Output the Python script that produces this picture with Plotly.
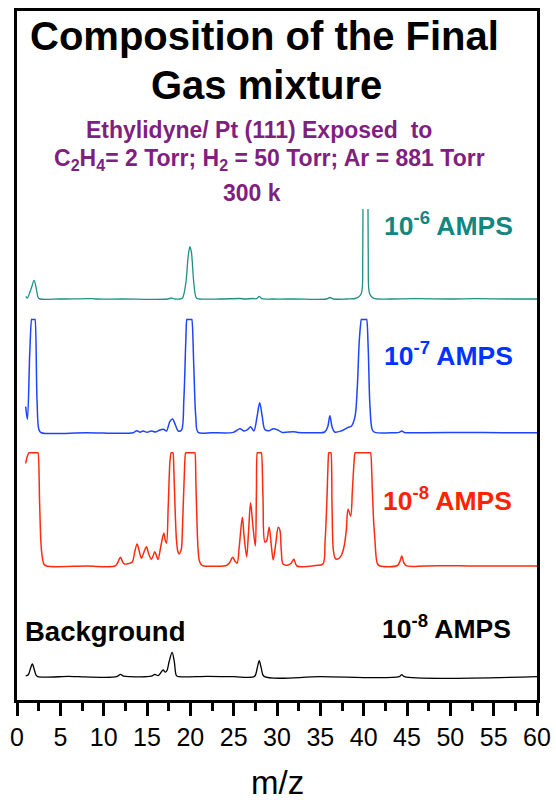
import plotly.graph_objects as go

# Mass spectra (m/z, signal above the trace's own baseline), one list per gain setting.
# None splits the line where the 10^-6 A trace runs off scale at m/z 40.
spec_1e6 = [(1.0, 2.7), (1.2, 1.0), (1.45, 6.0), (1.66, 11.0), (1.98, 18.7), (2.24, 9.7),
            (2.47, 1.0), (2.7, 0.0), (5.0, 0.0), (8.6, 0.4), (9.2, 0.0), (12.0, 0.0),
            (17.4, 0.0), (17.8, 1.0), (18.2, 0.0), (18.8, 0.0), (19.1, 1.0), (19.48, 16.0),
            (19.75, 42.7), (19.95, 52.3), (20.13, 46.3), (20.4, 16.3), (20.7, 1.0), (21.1, 0.0),
            (23.5, 0.0), (25.7, 0.5), (26.3, 0.0), (27.2, 0.5), (27.65, 0.3), (27.95, 2.7),
            (28.25, 0.3), (29.5, 0.0), (32.0, 0.0), (35.7, 0.0), (36.1, 1.5), (36.5, 0.0),
            (38.0, 0.0), (39.0, 0.5), (39.4, 2.0), (39.7, 5.0), (39.85, 12.0), (39.89, 40.0),
            (39.91, 70.0), (39.92, 90.0), (None, None), (40.5, 90.0), (40.51, 70.0),
            (40.53, 40.0), (40.57, 12.0), (40.7, 5.0), (40.95, 2.0), (41.3, 0.3), (43.0, 0.0),
            (46.0, 0.3), (50.0, 0.0), (53.0, 0.3), (57.0, 0.0), (60.0, 0.0)]

spec_1e7 = [(1.0, 26.0), (1.2, 13.3), (1.47, 79.3), (1.69, 113.3), (1.72, 113.3), (2.05, 113.3),
            (2.08, 113.3), (2.31, 32.7), (2.54, 2.7), (2.8, 0.0), (8.0, 0.0), (13.4, 0.0),
            (13.8, 2.0), (14.2, 0.5), (14.55, 1.7), (15.0, 0.5), (15.5, 1.7), (16.0, 0.7),
            (16.5, 2.7), (16.95, 3.3), (17.25, 1.7), (17.63, 11.0), (17.94, 13.7), (18.28, 7.7),
            (18.6, 1.7), (18.98, 2.7), (19.25, 32.7), (19.48, 92.7), (19.6, 113.3),
            (19.63, 113.3), (20.14, 113.3), (20.17, 113.3), (20.4, 66.0), (20.63, 16.0),
            (20.9, 0.3), (22.5, 0.0), (24.95, 0.3), (25.71, 4.0), (26.2, 1.7), (26.6, 3.0),
            (26.95, 6.0), (27.33, 1.7), (27.7, 16.0), (28.0, 30.0), (28.3, 16.0), (28.6, 3.3),
            (29.1, 2.0), (29.57, 4.0), (30.1, 2.7), (30.6, 0.3), (31.9, 1.0), (32.4, 0.3),
            (34.0, 0.0), (35.5, 0.7), (35.85, 6.0), (36.1, 17.0), (36.35, 6.0), (36.65, 0.7),
            (37.4, 1.7), (38.0, 4.3), (38.2, 5.3), (38.6, 6.7), (39.0, 16.0), (39.27, 46.0),
            (39.5, 92.7), (39.74, 113.3), (39.77, 113.3), (40.32, 113.3), (40.35, 113.3),
            (40.53, 82.7), (40.73, 26.0), (41.0, 2.7), (41.3, 0.3), (43.5, 0.0), (44.1, 0.3),
            (44.4, 1.7), (44.7, 0.3), (47.0, 0.0), (52.0, 0.3), (56.0, 0.0), (60.0, 0.0)]

spec_1e8 = [(1.0, 102.7), (1.2, 110.0), (1.39, 113.3), (1.42, 113.3), (2.4, 113.3), (2.43, 113.3),
            (2.62, 59.3), (2.82, 16.0), (3.1, 2.0), (3.4, 0.0), (8.0, 0.0), (11.3, 0.0),
            (11.6, 3.0), (11.94, 8.7), (12.2, 4.0), (12.4, 2.0), (12.9, 2.5), (13.3, 4.0),
            (13.6, 15.0), (13.86, 22.0), (14.1, 15.0), (14.36, 7.7), (14.65, 14.0),
            (14.94, 19.3), (15.2, 12.0), (15.5, 6.7), (15.7, 10.0), (15.9, 14.3), (16.1, 10.0),
            (16.28, 6.7), (16.6, 20.0), (16.94, 32.7), (17.1, 26.0), (17.25, 22.7),
            (17.45, 60.0), (17.65, 105.0), (17.78, 113.3), (17.81, 113.3), (17.97, 113.3),
            (18.0, 113.3), (18.1, 95.0), (18.25, 55.0), (18.4, 26.0), (18.55, 15.0),
            (18.7, 12.0), (18.85, 14.0), (18.98, 17.7), (19.1, 40.0), (19.3, 90.0),
            (19.45, 113.3), (19.48, 113.3), (20.5, 113.3), (20.53, 113.3), (20.65, 80.0),
            (20.78, 40.0), (20.9, 16.0), (21.05, 5.0), (21.3, 1.0), (21.6, 0.0), (23.8, 0.0),
            (24.2, 0.7), (24.5, 3.0), (24.9, 8.7), (25.15, 5.0), (25.4, 2.7), (25.65, 20.0),
            (26.0, 48.7), (26.2, 30.0), (26.5, 9.3), (26.72, 35.0), (26.95, 63.3),
            (27.2, 42.0), (27.5, 20.0), (27.62, 70.0), (27.72, 113.3), (27.75, 113.3),
            (28.17, 113.3), (28.2, 113.3), (28.38, 70.0), (28.6, 24.0), (28.8, 25.0),
            (29.1, 38.7), (29.35, 20.0), (29.56, 6.0), (29.85, 22.0), (30.14, 38.7),
            (30.33, 36.0), (30.5, 15.0), (30.7, 2.0), (31.3, 1.0), (31.65, 3.0),
            (31.95, 6.7), (32.3, 0.0), (34.5, 0.5), (35.3, 2.0), (35.55, 25.0),
            (35.73, 59.3), (35.92, 108.0), (35.97, 113.3), (36.0, 113.3), (36.2, 113.3),
            (36.23, 113.3), (36.35, 60.0), (36.5, 16.0), (36.7, 8.0), (36.9, 6.7),
            (37.2, 8.0), (37.45, 11.0), (37.75, 20.0), (38.0, 36.0), (38.2, 56.7),
            (38.5, 50.0), (38.7, 76.0), (38.9, 105.0), (39.0, 113.3), (39.03, 113.3),
            (40.77, 113.3), (40.8, 113.3), (41.0, 76.0), (41.15, 45.0), (41.3, 26.0),
            (41.45, 8.0), (41.6, 2.0), (41.9, 0.0), (43.9, 0.5), (44.2, 5.0), (44.4, 10.0),
            (44.6, 4.0), (44.9, 0.3), (47.0, 0.0), (50.0, 0.3), (52.0, 0.0), (55.0, 0.0),
            (60.0, 0.0)]

spec_bg = [(1.0, 0.7), (1.3, 2.0), (1.55, 8.0), (1.77, 12.7), (2.0, 7.0), (2.2, 1.5), (2.4, 0.0),
           (6.0, 0.3), (7.0, 0.0), (11.5, 0.0), (11.94, 2.3), (12.3, 0.5), (13.0, 0.0),
           (15.5, 0.5), (15.9, 2.3), (16.3, 1.0), (16.86, 6.7), (17.1, 4.5), (17.3, 6.0),
           (17.55, 15.0), (17.9, 24.3), (18.15, 15.0), (18.4, 1.0), (18.7, 0.0), (22.0, 0.3),
           (25.0, 0.0), (27.4, 0.3), (27.7, 8.0), (27.95, 16.0), (28.2, 8.0), (28.5, 0.3),
           (35.0, 0.0), (44.1, 0.0), (44.4, 2.0), (44.7, 0.0), (60.0, 0.0)]

x_ticks = [0, 5, 10, 15, 20, 25, 30, 35, 40, 45, 50, 55, 60]

# Vertical stacking of the traces (plot units, bottom of the frame = 0)
traces = [
    (spec_1e6, 401.0, "#1f8f87", 1.3),
    (spec_1e7, 267.3, "#1f44ff", 1.5),
    (spec_1e8, 134.0, "#ff2a10", 1.5),
    (spec_bg, 23.3, "#000000", 1.3),
]

FONT = "Arial, 'Liberation Sans', sans-serif"

fig = go.Figure()
for spec, base, color, width in traces:
    xs = [p[0] for p in spec]
    ys = [None if p[1] is None else base + p[1] for p in spec]
    fig.add_trace(go.Scatter(
        x=xs, y=ys, mode="lines", connectgaps=False,
        line=dict(color=color, width=width, shape="spline", smoothing=0.9),
        hoverinfo="skip",
    ))

W, H = 556, 800
L, R, T, B = 17, 19, 11, 100
PW, PH = W - L - R, H - T - B


def px_x(px):
    return (px - L) / PW


def px_y(py):
    return (H - B - py) / PH


def note(text, x, y, size, color, xanchor="center", bold=True):
    fig.add_annotation(
        x=px_x(x), y=px_y(y), xref="paper", yref="paper",
        text=f"<b>{text}</b>" if bold else text, showarrow=False,
        xanchor=xanchor, yanchor="middle",
        font=dict(family=FONT, size=size, color=color),
    )


note("Composition of the Final", 264, 36, 40, "#000000")
note("Gas mixture", 266, 85, 40, "#000000")

purple = "#7f1f7f"
note("Ethylidyne/ Pt (111) Exposed  to", 259, 130, 23, purple)
note("C<sub>2</sub>H<sub>4</sub>= 2 Torr; H<sub>2</sub> = 50 Torr; Ar = 881 Torr", 269, 160, 23, purple)
note("300 k", 252, 193, 23, purple)

note("10<sup>-6</sup> AMPS", 448, 224, 26.5, "#12877f")
note("10<sup>-7</sup> AMPS", 448, 354, 26.5, "#0033ff")
note("10<sup>-8</sup> AMPS", 447, 499, 26.5, "#ff2200")
note("10<sup>-8</sup> AMPS", 446, 627, 26.5, "#000000")
note("Background", 23, 631, 27.5, "#000000", xanchor="left")

note("m/z", 277, 782, 33, "#000000", bold=False)

fig.update_layout(
    width=W, height=H,
    margin=dict(l=L, r=R, t=T, b=B, pad=0, autoexpand=False),
    paper_bgcolor="white", plot_bgcolor="white",
    showlegend=False,
    font=dict(family=FONT, color="black"),
    xaxis=dict(
        range=[0, 60], tickvals=x_ticks, ticktext=[str(v) for v in x_ticks],
        ticks="outside", ticklen=13, tickwidth=2.5, tickcolor="black",
        tickfont=dict(family=FONT, size=25, color="black"),
        minor=dict(dtick=2.5, tick0=0, ticks="outside", ticklen=8, tickwidth=2.5,
                   tickcolor="black", showgrid=False),
        showline=True, linewidth=3, linecolor="black", mirror=True,
        showgrid=False, zeroline=False, automargin=False,
    ),
    yaxis=dict(
        range=[0, PH], showticklabels=False, ticks="",
        showline=True, linewidth=3, linecolor="black", mirror=True,
        showgrid=False, zeroline=False, automargin=False,
    ),
)

fig.write_html("out.html")
